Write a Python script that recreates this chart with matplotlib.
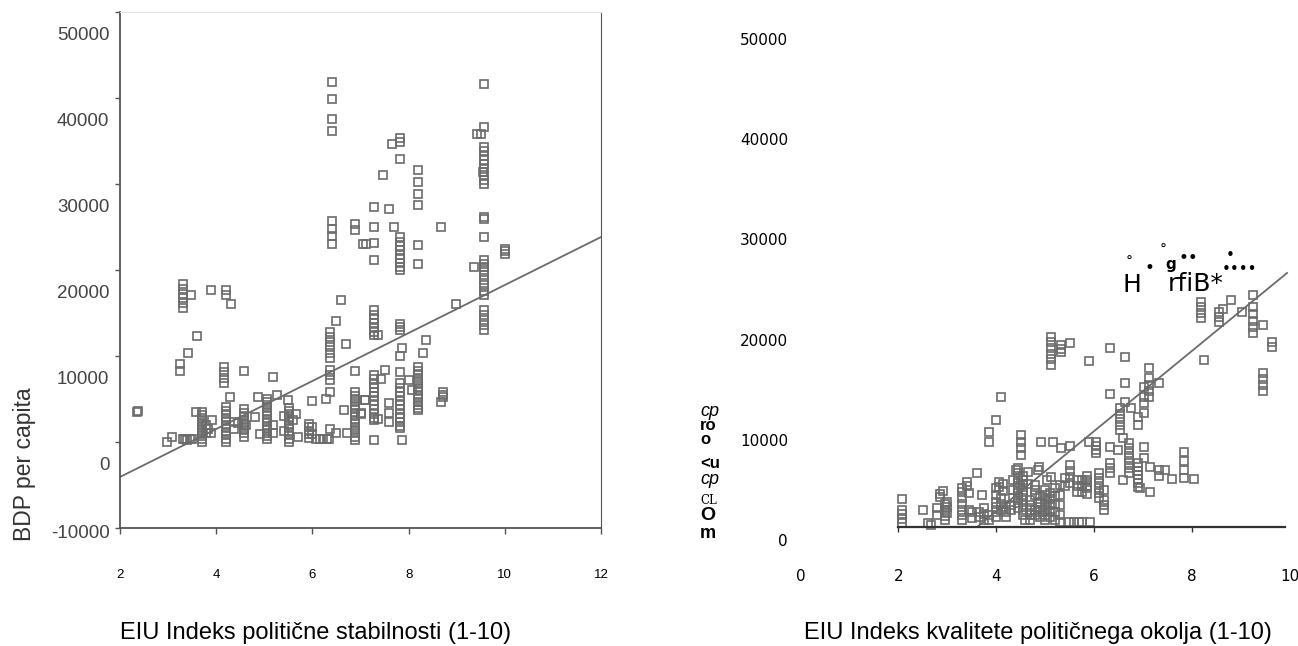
import matplotlib
matplotlib.use("Agg")
import matplotlib.pyplot as plt
from matplotlib.transforms import ScaledTranslation

# --- political stability index vs GDP per capita ---
stab_x = (
    [2.35, 2.38, 2.97, 3.09, 3.25, 3.25]
    + [3.30] * 6
    + [3.30, 3.35, 3.40, 3.45, 3.50, 3.42, 3.48, 3.58, 3.60]
    + [3.70] * 11
    + [3.78, 3.78, 3.82, 3.90, 3.92, 3.90]
    + [4.16] * 4
    + [4.20] * 11
    + [4.20, 4.20, 4.29, 4.31, 4.37, 4.37, 4.45, 4.58]
    + [4.58] * 9
    + [4.62, 4.80, 4.87, 4.91, 5.05]
    + [5.05] * 12
    + [5.18, 5.19, 5.19, 5.26, 5.40, 5.40, 5.50]
    + [5.52] * 11
    + [5.60, 5.65, 5.71]
    + [5.92] * 5
    + [6.00, 6.00, 6.00, 6.08, 6.15, 6.22, 6.30, 6.35, 6.28]
    + [6.36] * 11
    + [6.40] * 8
    + [6.49, 6.50, 6.59, 6.65, 6.70, 6.72, 6.89, 6.89, 6.89]
    + [6.89] * 15
    + [7.02, 7.09, 7.02, 7.09, 7.06, 7.11, 7.29]
    + [7.28] * 3
    + [7.28] * 7
    + [7.28] * 12
    + [7.28, 7.36, 7.36, 7.42, 7.46, 7.51, 7.59, 7.59, 7.59, 7.59, 7.65, 7.69]
    + [7.82] * 3
    + [7.82] * 9
    + [7.82] * 3
    + [7.82, 7.82]
    + [7.82] * 12
    + [7.86, 7.87, 8.00, 8.08]
    + [8.20] * 6
    + [8.20] * 14
    + [8.30, 8.37, 8.68, 8.67, 8.71, 8.71, 8.71, 8.99, 9.35, 9.42, 9.50, 9.55]
    + [9.57] * 2
    + [9.57] * 9
    + [9.57] * 3
    + [9.57] * 9
    + [9.57] * 5
    + [10.0] * 3
)
stab_gdp = (
    [3490, 3600, 0, 580, 9120, 8260]
    + [18340, 17800, 17200, 16700, 16150, 15630]
    + [300, 300, 250, 300, 350, 10350, 17060, 3490, 12330]
    + [0, 350, 700, 1050, 1400, 1750, 2100, 2450, 2800, 3100, 3450]
    + [2000, 1000, 1500, 17720, 2600, 1000]
    + [8680, 8100, 7500, 6860]
    + [0, 400, 800, 1200, 1600, 2000, 2400, 2800, 3200, 3600, 4070]
    + [17720, 17150, 5230, 16090, 1500, 2300, 2200, 8260]
    + [600, 1000, 1400, 1800, 2200, 2600, 3000, 3400, 3800]
    + [2000, 2900, 5230, 970, 5040]
    + [300, 700, 1100, 1500, 1900, 2300, 2700, 3100, 3500, 3900, 4300, 4700]
    + [7560, 2000, 1000, 5430, 3000, 1300, 4850]
    + [0, 400, 800, 1200, 1600, 2000, 2400, 2800, 3200, 3600, 4000]
    + [2600, 3200, 580]
    + [500, 900, 1300, 1700, 2100]
    + [4770, 1800, 900, 400, 300, 350, 400, 300, 5040]
    + [1560, 12790, 12200, 11600, 11000, 10400, 9800, 8340, 7760, 7170, 5810]
    + [41860, 39930, 37520, 36160, 25660, 24810, 23950, 23020]
    + [14070, 1000, 16480, 3770, 11360, 1000, 25390, 24620, 8220]
    + [5810, 5400, 5000, 4600, 4200, 3800, 3400, 3000, 2600, 2200, 1800,
       1400, 1000, 600, 200]
    + [3350, 4930, 3220, 4850, 23070, 23070, 23190]
    + [27270, 24980, 21130]
    + [15310, 14800, 14300, 13800, 13300, 12800, 12400]
    + [7760, 7300, 6800, 6300, 5800, 5300, 4800, 4300, 3800, 3300, 2800, 2520]
    + [280, 12400, 2720, 7370, 31010, 8340, 27120, 4500, 3400, 2330, 34700,
       24990]
    + [35350, 34900, 32950]
    + [23840, 23300, 22800, 22300, 21800, 21300, 20800, 20300, 19970]
    + [13770, 13400, 12990]
    + [9970, 8140]
    + [6820, 6300, 5800, 5300, 4800, 4300, 3800, 3300, 2800, 2300, 1900, 1590]
    + [280, 10930, 7170, 6010]
    + [31590, 30230, 28800, 27600, 22870, 20740]
    + [8720, 8300, 7900, 7500, 7100, 6700, 6300, 5900, 5500, 5100, 4700, 4300,
       3900, 3690]
    + [10350, 11900, 24990, 4650, 5810, 5500, 5230, 16090, 20350, 35780, 35780,
       31400]
    + [41670, 36630]
    + [34300, 33800, 33300, 32800, 32300, 31800, 31100, 30500, 30050]
    + [26160, 25900, 23840]
    + [21130, 20700, 20300, 19970, 19380, 18800, 18200, 17600, 17060]
    + [15310, 14800, 14200, 13600, 12990]
    + [22490, 22200, 21900]
)
stab_fit = (-9647, 2790)      # intercept, slope
stab_fit_range = (2, 12)

# --- quality of political environment index vs GDP per capita ---
qual_x = (
    [2.08] * 5
    + [2.51, 2.60, 2.67, 2.80, 2.80, 2.85, 2.85, 2.92]
    + [2.95] * 4
    + [3.00] * 3
    + [3.30] * 7
    + [3.40, 3.40, 3.45, 3.45, 3.50, 3.50, 3.61, 3.65, 3.65, 3.72]
    + [3.75] * 3
    + [3.85] * 4
    + [3.99]
    + [4.00] * 6
    + [4.05, 4.05, 4.09, 4.10, 4.10, 4.10, 4.15, 4.15, 4.20, 4.20, 4.20,
       4.30, 4.30, 4.35, 4.35, 4.35, 4.40]
    + [4.45] * 9
    + [4.51] * 4
    + [4.55] * 9
    + [4.60, 4.65, 4.65]
    + [4.70] * 5
    + [4.80] * 5
    + [4.86, 4.88, 4.92]
    + [4.90] * 5
    + [5.00] * 7
    + [5.05]
    + [5.12] * 7
    + [5.16]
    + [5.10] * 5
    + [5.20] * 5
    + [5.33] * 4
    + [5.30] * 5
    + [5.40, 5.40]
    + [5.51] * 6
    + [5.50, 5.60, 5.70]
    + [5.66, 5.66, 5.66, 5.75, 5.75, 5.75, 5.85, 5.85]
    + [5.89, 5.89]
    + [5.85] * 4
    + [5.75, 5.92]
    + [6.05] * 4
    + [6.10] * 6
    + [6.20] * 4
    + [6.33] * 6
    + [6.50]
    + [6.54] * 5
    + [6.64] * 3
    + [6.60, 6.60]
    + [6.72] * 7
    + [6.76]
    + [6.91] * 9
    + [6.95]
    + [7.02] * 6
    + [7.12] * 5
    + [7.15, 7.15, 7.34, 7.34, 7.34, 7.45, 7.59]
    + [7.84] * 4
    + [8.05]
    + [8.19] * 4
    + [8.26, 8.55, 8.55, 8.55, 8.64, 8.80, 9.03]
    + [9.25] * 6
    + [9.46] * 5
    + [9.65, 9.65]
)
qual_gdp = (
    [4060, 3000, 2550, 2100, 1700]
    + [2990, 1730, 1500, 2500, 3200, 4300, 4600, 4900]
    + [3600, 3000, 2400, 2000]
    + [3800, 3300, 2700]
    + [5200, 4800, 4200, 3600, 3000, 2500, 2000]
    + [5800, 5400, 4700, 3000, 2800, 2200, 6720, 2300, 2800, 4490]
    + [3200, 2600, 2000]
    + [10810, 9810, 2500, 2000]
    + [11980]
    + [5200, 4500, 3800, 3300, 2800, 2300]
    + [5800, 5300, 14240, 4200, 3600, 3000, 5600, 4900, 2800, 2300, 3300,
       3000, 3500, 6000, 5000, 4200, 7000]
    + [7200, 6700, 6200, 5700, 5200, 4700, 4200, 3700, 3200]
    + [10480, 9800, 9150, 8480]
    + [6400, 6000, 5500, 5000, 4500, 4000, 3500, 3000, 2500]
    + [2000, 6800, 5600]
    + [4000, 3500, 3000, 2500, 2000]
    + [5500, 5000, 4500, 3000, 2500]
    + [6990, 7300, 9810]
    + [4400, 3800, 3300, 2800, 2300]
    + [5000, 4500, 4000, 3500, 3000, 2500, 2000]
    + [6000]
    + [20290, 19730, 19160, 18600, 18030, 17470, 6320]
    + [9810]
    + [4700, 4100, 3500, 2900, 2300]
    + [5200, 4400, 3600, 2800, 2000]
    + [19460, 19100, 18790, 9150]
    + [5500, 4500, 3500, 2500, 1800]
    + [6200, 5400]
    + [19700, 9420, 7490, 6900, 6300, 5660]
    + [1800, 1800, 1800]
    + [6000, 5400, 4800, 6000, 5400, 4800, 6000, 5400]
    + [17900, 9780]
    + [6400, 5800, 5200, 4600]
    + [1830, 1830]
    + [9810, 9400, 9000, 8650]
    + [6700, 6200, 5700, 5200, 4700, 4200]
    + [5000, 4000, 3500, 3000]
    + [19130, 14570, 9310, 7690, 7200, 6690]
    + [8980]
    + [13170, 12600, 12050, 11500, 10980]
    + [18290, 15700, 13800]
    + [10180, 6000]
    + [9700, 9200, 8680, 8180, 7700, 7200, 6690]
    + [13140]
    + [12300, 11480, 7690, 7300, 6900, 6500, 6100, 5700, 5290]
    + [5160]
    + [15300, 14300, 13670, 12670, 9310, 8180]
    + [17130, 16170, 15500, 14900, 14300]
    + [7320, 4820, 15640, 6990, 6390, 6990, 6060]
    + [8810, 7900, 7000, 6160]
    + [6060]
    + [23790, 23240, 22680, 22130]
    + [17960, 22780, 22300, 21790, 23100, 23950, 22790]
    + [24450, 23280, 22600, 21900, 21300, 20630]
    + [21460, 16700, 16100, 15500, 14900]
    + [19790, 19230]
)
qual_fit = (-13150, 4000)     # intercept, slope
qual_fit_range = (3.62, 9.95)
qual_axis_level = 1330        # height of the drawn x axis line

W, H = 1298, 646
GREY = "#6b6b6b"


def px_box(x0, y0, x1, y1):
    """Pixel box (origin top-left) -> figure-fraction rectangle."""
    return [x0 / W, 1 - y1 / H, (x1 - x0) / W, (y1 - y0) / H]


def px_xy(x, y):
    return x / W, 1 - y / H


fig = plt.figure(figsize=(W / 100, H / 100), dpi=100)

# left panel
ax1 = fig.add_axes(px_box(120, 12, 601, 528))
ax1.plot(stab_x, stab_gdp, ls="none", marker="s", ms=5.6, mew=1.2,
         mfc="none", mec=GREY)
ax1.plot(stab_fit_range,
         [stab_fit[0] + stab_fit[1] * x for x in stab_fit_range],
         color=GREY, lw=1.3)
ax1.set_xlim(2, 12)
ax1.set_ylim(-10000, 50000)
ax1.set_xticks([2, 4, 6, 8, 10, 12])
ax1.set_yticks(range(-10000, 50001, 10000))
ax1.set_yticklabels([str(v) for v in range(-10000, 50001, 10000)])
for side in ("left", "bottom"):
    ax1.spines[side].set_color("#555555")
    ax1.spines[side].set_linewidth(1.3)
ax1.spines["right"].set_color("#555555")
ax1.spines["top"].set_color("#e4e4e4")
ax1.tick_params(axis="x", direction="out", length=4.3, width=1.0,
                color="#555555", pad=25, labelsize=9.5, labelcolor="black")
ax1.tick_params(axis="y", direction="out", length=3.6, width=1.0,
                color="#555555", pad=4, labelsize=13.5, labelcolor="#444444")
for lab in ax1.get_xticklabels() + ax1.get_yticklabels():
    lab.set_family("Liberation Sans")
# y labels sit lower than their ticks in this layout
label_drop = [4, 22, 22, 22, 22, 22, 22]
for lab, drop in zip(ax1.get_yticklabels(), label_drop):
    lab.set_transform(lab.get_transform()
                      + ScaledTranslation(0, -drop / 100, fig.dpi_scale_trans))

# right panel
ax2 = fig.add_axes(px_box(800.5, 39, 1289.5, 540))
ax2.plot(qual_x, qual_gdp, ls="none", marker="s", ms=5.6, mew=1.2,
         mfc="none", mec=GREY)
ax2.plot(qual_fit_range,
         [qual_fit[0] + qual_fit[1] * x for x in qual_fit_range],
         color=GREY, lw=1.3)
ax2.set_xlim(0, 10)
ax2.set_ylim(0, 50000)
ax2.set_xticks([0, 2, 4, 6, 8, 10])
ax2.set_yticks(range(0, 50001, 10000))
for side in ("left", "right", "top"):
    ax2.spines[side].set_visible(False)
ax2.spines["bottom"].set_position(("data", qual_axis_level))
ax2.spines["bottom"].set_bounds(2, 9.9)
ax2.spines["bottom"].set_color("#333333")
ax2.spines["bottom"].set_linewidth(1.6)
ax2.tick_params(axis="x", direction="out", length=3.6, width=1.0,
                color="#333333", pad=27, labelsize=11)
ax2.tick_params(axis="y", length=0, pad=9, labelsize=11)
for lab in ax2.get_xticklabels() + ax2.get_yticklabels():
    lab.set_family("DejaVu Sans")
xt = ax2.xaxis.get_major_ticks()
xt[0].tick1line.set_visible(False)
xt[-1].tick1line.set_visible(False)

# axis titles
fig.text(*px_xy(24, 464), "BDP per capita", rotation=90, ha="center",
         va="center", fontsize=16.5, color="#333333", family="Liberation Sans")
fig.text(*px_xy(316, 633), "EIU Indeks politične stabilnosti (1-10)",
         ha="center", va="center", fontsize=17, family="Liberation Sans")
fig.text(*px_xy(1038, 633), "EIU Indeks kvalitete političnega okolja (1-10)",
         ha="center", va="center", fontsize=17, family="Liberation Sans")

# stray glyphs beside the right panel
side_bits = [
    ("cp", 411, dict(style="italic", fontsize=13)),
    ("ro", 425, dict(weight="bold", fontsize=12)),
    ("o", 439, dict(weight="bold", fontsize=12)),
    ("<u", 464, dict(weight="bold", fontsize=12)),
    ("cp", 479, dict(style="italic", fontsize=13)),
    ("CL", 500, dict(family="DejaVu Serif", fontsize=8.5)),
    ("O", 516, dict(weight="bold", fontsize=14)),
    ("m", 534, dict(weight="bold", fontsize=13)),
]
for txt, y, kw in side_bits:
    kw.setdefault("family", "Liberation Sans")
    fig.text(*px_xy(700, y), txt, ha="left", va="center", **kw)

top_bits = [
    ("H", 1132, 285, dict(fontsize=18)),
    ("rfiB*", 1196, 284, dict(fontsize=18)),
    ("g", 1171, 264, dict(fontsize=11, weight="bold")),
    ("°", 1129, 262, dict(fontsize=10)),
    ("°", 1163, 250, dict(fontsize=10)),
    ("•", 1149, 268, dict(fontsize=12)),
    ("••", 1188, 258, dict(fontsize=12)),
    ("•", 1230, 255, dict(fontsize=11)),
    ("••••", 1240, 270, dict(fontsize=11)),
]
for txt, x, y, kw in top_bits:
    fig.text(*px_xy(x, y), txt, ha="center", va="center",
             family="DejaVu Sans", **kw)

fig.savefig("out.png", dpi=100)
